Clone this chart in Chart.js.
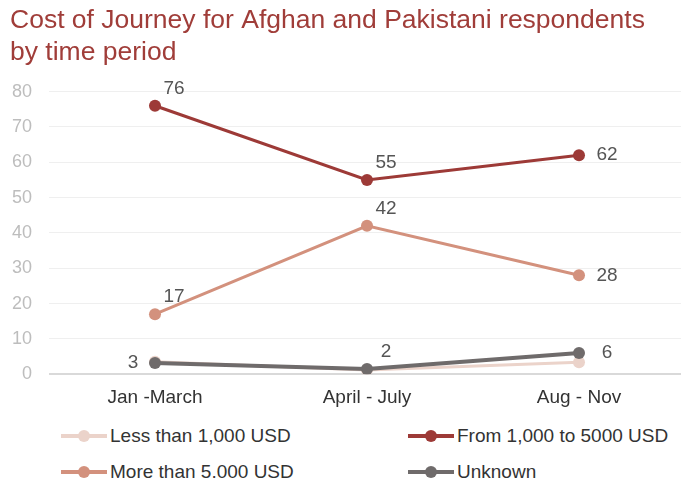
<!DOCTYPE html>
<html>
<head>
<meta charset="utf-8">
<script src="https://cdn.jsdelivr.net/npm/chart.js@4"></script>
<style>
  body { margin: 0; background: #fff; font-family: "Liberation Sans", Arial, sans-serif; overflow: hidden; }
  #wrap { position: relative; width: 681px; height: 481px; overflow: hidden; }
  #box { position: absolute; left: 0; top: 0; width: 691px; height: 413px; }
  #legend { position: absolute; left: 0; top: 425px; width: 681px; }
  .item { position: absolute; display: flex; align-items: center; font-size: 19px; color: #333; white-space: nowrap; }
  .mark { position: relative; width: 46px; height: 12px; margin-right: 3px; }
  .mark .ln { position: absolute; left: 0; top: 4px; width: 46px; height: 4px; }
  .mark .dt { position: absolute; left: 17px; top: 0; width: 12px; height: 12px; border-radius: 50%; }
</style>
</head>
<body>
<div id="wrap">
  <div id="box"><canvas id="chart"></canvas></div>
  <div id="legend"></div>
</div>
<script>
// Datos del gráfico
const periods = ["Jan -March", "April - July", "Aug - Nov"];
const lessThan1000 = [3.5, 1.2, 3.4];
const from1000to5000 = [76, 55, 62];
const moreThan5000 = [17, 42, 28];
const unknown = [3.2, 1.5, 6.0];
const yTicks = [0, 10, 20, 30, 40, 50, 60, 70, 80];

const seriesNames = ["Less than 1,000 USD", "From 1,000 to 5000 USD", "More than 5.000 USD", "Unknown"];
const seriesColors = ["#ebd3ca", "#9d3a37", "#d3917d", "#6f6b6b"];

// Posición de las etiquetas: "ar" arriba-derecha, "r" derecha, "l" izquierda
const labelPos = {
    1: ["ar", "ar", "r"],
    2: ["ar", "ar", "r"],
    3: ["l", "ar", "r"]
};
const offsets = { ar: [19, -17], r: [28, 0], l: [-22, 0] };

const FONT = "'Liberation Sans', Arial, sans-serif";

// Plugin para dibujar los valores junto a los puntos
const valueLabels = {
    id: "valueLabels",
    afterDatasetsDraw(chart) {
        const ctx = chart.ctx;
        ctx.save();
        ctx.font = "19px " + FONT;
        ctx.fillStyle = "#555";
        ctx.textAlign = "center";
        ctx.textBaseline = "middle";
        Object.keys(labelPos).forEach(i => {
            const meta = chart.getDatasetMeta(+i);
            const data = chart.data.datasets[i].data;
            meta.data.forEach((pt, j) => {
                const o = offsets[labelPos[i][j]];
                ctx.fillText(Math.round(data[j]), pt.x + o[0], pt.y + o[1]);
            });
        });
        ctx.restore();
    }
};

function makeSet(i, data, width, order) {
    return {
        label: seriesNames[i],
        data: data,
        borderColor: seriesColors[i],
        backgroundColor: seriesColors[i],
        borderWidth: width,
        pointRadius: 6,
        pointHoverRadius: 6,
        pointBorderWidth: 0,
        order: order
    };
}

const chart = new Chart(document.getElementById("chart"), {
    type: "line",
    data: {
        labels: periods,
        datasets: [
            makeSet(0, lessThan1000, 3, 3),
            makeSet(1, from1000to5000, 3, 1),
            makeSet(2, moreThan5000, 3, 2),
            makeSet(3, unknown, 4, 0)
        ]
    },
    options: {
        responsive: true,
        maintainAspectRatio: false,
        animation: false,
        layout: { padding: { left: 10, right: 0, top: 5, bottom: 0 } },
        plugins: {
            legend: { display: false },
            tooltip: { enabled: false },
            title: {
                display: true,
                text: ["Cost of Journey for Afghan and Pakistani respondents", "by time period"],
                align: "start",
                color: "#a03d39",
                font: { family: FONT, size: 26.5, weight: "normal" },
                lineHeight: 1.24,
                padding: { top: 0, bottom: 23 }
            }
        },
        scales: {
            x: {
                offset: true,
                grid: { display: false },
                border: { display: false },
                ticks: {
                    color: "#333",
                    font: { family: FONT, size: 19 },
                    padding: 4
                }
            },
            y: {
                min: 0,
                max: 80,
                afterBuildTicks: axis => { axis.ticks = yTicks.map(v => ({ value: v })); },
                afterFit: axis => { axis.width = 39; },
                border: { display: false },
                grid: {
                    drawTicks: false,
                    color: c => c.tick.value === 0 ? "#d9d9d9" : "#efefef",
                    lineWidth: c => c.tick.value === 0 ? 2 : 1
                },
                ticks: {
                    color: "#bdbdbd",
                    font: { family: FONT, size: 18 },
                    padding: 17
                }
            }
        }
    },
    plugins: [valueLabels]
});

// Leyenda en HTML (dos columnas)
const legendSpots = [[61, 0], [408, 0], [61, 36], [408, 36]];
const legendEl = document.getElementById("legend");
chart.data.datasets.forEach((ds, i) => {
    const it = document.createElement("div");
    it.className = "item";
    it.style.left = legendSpots[i][0] + "px";
    it.style.top = legendSpots[i][1] + "px";
    it.innerHTML = '<span class="mark"><span class="ln" style="background:' + ds.borderColor +
        '"></span><span class="dt" style="background:' + ds.borderColor + '"></span></span>' + ds.label;
    legendEl.appendChild(it);
});
</script>
</body>
</html>
